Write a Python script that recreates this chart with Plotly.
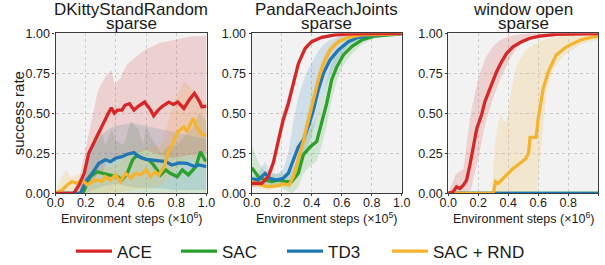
import plotly.graph_objects as go

# ---------------- data ----------------
titles = [("DKittyStandRandom", "sparse"), ("PandaReachJoints", "sparse"), ("window open", "sparse")]
xlabels = ["Environment steps (×10<sup>6</sup>)", "Environment steps (×10<sup>5</sup>)", "Environment steps (×10<sup>6</sup>)"]
tick_x = [0.0, 0.2, 0.4, 0.6, 0.8, 1.0]
tick_y = [0.0, 0.25, 0.5, 0.75, 1.0]
series_names = ["ACE", "SAC", "TD3", "SAC + RND"]
series_colors = ["#d62728", "#2ca02c", "#1f77b4", "#f4b42f"]
series_fills = ["rgba(214,39,40,0.16)", "rgba(44,160,44,0.16)", "rgba(31,119,180,0.16)", "rgba(244,180,47,0.18)"]

# Panel 1: DKittyStandRandom
dk_ace_x = [0.0, 0.12, 0.155, 0.19, 0.22, 0.25, 0.28, 0.32, 0.35, 0.37, 0.39, 0.41, 0.44, 0.46, 0.49, 0.52,
            0.55, 0.59, 0.63, 0.65, 0.68, 0.71, 0.75, 0.78, 0.81, 0.85, 0.87, 0.89, 0.92, 0.95, 0.97, 1.0]
dk_ace_y = [0.0, 0.0, 0.05, 0.125, 0.25, 0.31, 0.37, 0.44, 0.50, 0.535, 0.50, 0.52, 0.52, 0.55, 0.56, 0.52,
            0.545, 0.57, 0.52, 0.485, 0.52, 0.545, 0.57, 0.555, 0.57, 0.53, 0.56, 0.59, 0.625, 0.58, 0.54, 0.545]
dk_ace_bx = [0.0, 0.12, 0.16, 0.22, 0.25, 0.28, 0.32, 0.34, 0.37, 0.39, 0.43, 0.47, 0.54, 0.6, 0.69, 0.78, 0.89, 1.0]
dk_ace_hi = [0.0, 0.0, 0.1, 0.36, 0.51, 0.64, 0.71, 0.74, 0.77, 0.68, 0.72, 0.80, 0.86, 0.90, 0.94, 0.96, 0.98, 0.985]
dk_ace_lo = [0.0, 0.0, 0.0, 0.05, 0.08, 0.12, 0.15, 0.2, 0.22, 0.2, 0.22, 0.24, 0.25, 0.27, 0.24, 0.22, 0.24, 0.25]

dk_sac_x = [0.0, 0.18, 0.2, 0.23, 0.276, 0.31, 0.353, 0.41, 0.44, 0.475, 0.51, 0.54, 0.574, 0.62, 0.65, 0.695,
            0.73, 0.76, 0.806, 0.84, 0.88, 0.93, 0.96, 0.99, 1.0]
dk_sac_y = [0.0, 0.0, 0.04, 0.104, 0.135, 0.125, 0.115, 0.104, 0.083, 0.125, 0.208, 0.24, 0.219, 0.208, 0.177,
            0.115, 0.146, 0.125, 0.104, 0.146, 0.115, 0.167, 0.26, 0.208, 0.2]
dk_sac_bx = [0.0, 0.15, 0.2, 0.25, 0.3, 0.33, 0.37, 0.4, 0.45, 0.5, 0.55, 0.58, 0.6, 0.63, 0.67, 0.7, 0.75, 0.8,
             0.85, 0.9, 0.95, 1.0]
dk_sac_hi = [0.0, 0.0, 0.15, 0.35, 0.42, 0.3, 0.4, 0.33, 0.3, 0.45, 0.4, 0.3, 0.42, 0.35, 0.3, 0.25, 0.3, 0.3,
             0.35, 0.4, 0.5, 0.45]
dk_sac_lo = [0.0, 0.0, 0.0, 0.0, 0.0, 0.0, 0.0, 0.0, 0.0, 0.0, 0.0, 0.0, 0.0, 0.0, 0.0, 0.0, 0.0, 0.0,
             0.0, 0.0, 0.0, 0.0]

dk_td3_x = [0.0, 0.166, 0.2, 0.243, 0.287, 0.33, 0.364, 0.397, 0.44, 0.475, 0.52, 0.55, 0.6, 0.66, 0.73, 0.77,
            0.82, 0.87, 0.92, 0.95, 1.0]
dk_td3_y = [0.0, 0.0, 0.073, 0.125, 0.1875, 0.21, 0.198, 0.219, 0.229, 0.244, 0.254, 0.229, 0.2125, 0.204,
            0.198, 0.177, 0.19, 0.1875, 0.167, 0.177, 0.167]
dk_td3_bx = [0.0, 0.16, 0.2, 0.25, 0.3, 0.35, 0.4, 0.5, 0.6, 0.7, 0.8, 0.9, 1.0]
dk_td3_hi = [0.0, 0.0, 0.2, 0.3, 0.36, 0.4, 0.42, 0.44, 0.42, 0.4, 0.38, 0.36, 0.34]
dk_td3_lo = [0.0, 0.0, 0.0, 0.02, 0.04, 0.05, 0.06, 0.04, 0.03, 0.03, 0.02, 0.02, 0.02]

dk_rnd_x = [0.0, 0.044, 0.077, 0.11, 0.14, 0.177, 0.21, 0.243, 0.276, 0.31, 0.33, 0.364, 0.397, 0.43, 0.464,
            0.5, 0.53, 0.563, 0.6, 0.63, 0.66, 0.684, 0.72, 0.74, 0.77, 0.79, 0.81, 0.85, 0.87, 0.89, 0.91,
            0.93, 0.96, 0.97, 1.0]
dk_rnd_y = [0.0, 0.02, 0.052, 0.073, 0.0625, 0.083, 0.052, 0.073, 0.083, 0.073, 0.104, 0.083, 0.115, 0.073,
            0.125, 0.094, 0.125, 0.115, 0.146, 0.104, 0.135, 0.115, 0.167, 0.24, 0.3, 0.34, 0.385, 0.415,
            0.385, 0.425, 0.47, 0.425, 0.385, 0.365, 0.365]
dk_rnd_bx = [0.0, 0.03, 0.07, 0.1, 0.15, 0.2, 0.3, 0.4, 0.5, 0.6, 0.7, 0.75, 0.8, 0.85, 0.9, 0.95, 1.0]
dk_rnd_hi = [0.0, 0.08, 0.15, 0.1, 0.12, 0.12, 0.15, 0.18, 0.25, 0.28, 0.3, 0.45, 0.6, 0.7, 0.66, 0.6, 0.55]
dk_rnd_lo = [0.0, 0.0, 0.0, 0.0, 0.0, 0.0, 0.0, 0.0, 0.02, 0.03, 0.05, 0.1, 0.15, 0.2, 0.22, 0.2, 0.18]

# Panel 2: PandaReachJoints
pr_ace_x = [0.0, 0.067, 0.11, 0.144, 0.178, 0.21, 0.244, 0.278, 0.311, 0.356, 0.4, 0.467, 0.556, 0.667, 1.0]
pr_ace_y = [0.0625, 0.0625, 0.104, 0.19, 0.33, 0.46, 0.56, 0.69, 0.81, 0.906, 0.948, 0.975, 0.99, 0.996, 1.0]
pr_ace_hi = [0.08, 0.08, 0.13, 0.23, 0.38, 0.51, 0.61, 0.73, 0.84, 0.925, 0.96, 0.985, 0.995, 1.0, 1.0]
pr_ace_lo = [0.04, 0.045, 0.08, 0.15, 0.28, 0.41, 0.51, 0.65, 0.78, 0.885, 0.935, 0.965, 0.985, 0.992, 1.0]

pr_sac_x = [0.0, 0.044, 0.089, 0.133, 0.178, 0.222, 0.267, 0.311, 0.344, 0.389, 0.433, 0.467, 0.5, 0.533,
            0.567, 0.611, 0.667, 0.733, 0.822, 1.0]
pr_sac_y = [0.16, 0.104, 0.083, 0.073, 0.083, 0.073, 0.073, 0.125, 0.24, 0.29, 0.323, 0.4375, 0.5625, 0.708,
            0.79, 0.865, 0.917, 0.958, 0.983, 0.996]
pr_sac_hi = [0.3, 0.2, 0.13, 0.12, 0.12, 0.12, 0.15, 0.2, 0.33, 0.4, 0.48, 0.58, 0.7, 0.82, 0.88, 0.93, 0.96,
             0.98, 0.995, 1.0]
pr_sac_lo = [0.06, 0.05, 0.05, 0.04, 0.04, 0.02, 0.0, 0.04, 0.12, 0.17, 0.2, 0.3, 0.42, 0.58, 0.7, 0.8, 0.87,
             0.93, 0.97, 0.993]

pr_td3_x = [0.0, 0.044, 0.089, 0.12, 0.167, 0.21, 0.244, 0.278, 0.311, 0.344, 0.378, 0.411, 0.444, 0.478,
            0.522, 0.578, 0.644, 0.711, 0.8, 1.0]
pr_td3_y = [0.09, 0.083, 0.125, 0.094, 0.083, 0.094, 0.125, 0.21, 0.29, 0.333, 0.417, 0.52, 0.646, 0.75,
            0.833, 0.896, 0.948, 0.975, 0.99, 0.996]
pr_td3_hi = [0.1, 0.12, 0.2, 0.14, 0.12, 0.15, 0.25, 0.45, 0.6, 0.7, 0.78, 0.84, 0.89, 0.93, 0.96, 0.98,
             0.99, 1.0, 1.0, 1.0]
pr_td3_lo = [0.04, 0.05, 0.06, 0.05, 0.05, 0.05, 0.07, 0.1, 0.15, 0.2, 0.3, 0.4, 0.5, 0.62, 0.74, 0.84,
             0.92, 0.96, 0.985, 0.995]

pr_rnd_x = [0.0, 0.056, 0.111, 0.167, 0.21, 0.249, 0.278, 0.311, 0.344, 0.378, 0.411, 0.444, 0.478, 0.522,
            0.578, 0.644, 0.733, 1.0]
pr_rnd_y = [0.073, 0.052, 0.042, 0.046, 0.058, 0.052, 0.104, 0.208, 0.323, 0.458, 0.583, 0.708, 0.81, 0.896,
            0.948, 0.975, 0.99, 0.996]
pr_rnd_hi = [0.1, 0.08, 0.07, 0.07, 0.08, 0.08, 0.15, 0.28, 0.4, 0.54, 0.66, 0.77, 0.86, 0.93, 0.97, 0.99,
             1.0, 1.0]
pr_rnd_lo = [0.04, 0.03, 0.02, 0.03, 0.04, 0.03, 0.06, 0.14, 0.25, 0.38, 0.5, 0.64, 0.76, 0.86, 0.92, 0.96,
             0.98, 0.993]

# Panel 3: window open
wo_ace_x = [0.0, 0.033, 0.055, 0.078, 0.1, 0.122, 0.144, 0.167, 0.19, 0.21, 0.222, 0.244, 0.267, 0.289, 0.322,
            0.356, 0.389, 0.433, 0.489, 0.544, 0.61, 0.72, 0.83, 1.0]
wo_ace_y = [0.0, 0.01, 0.04, 0.03, 0.05, 0.083, 0.177, 0.28, 0.406, 0.458, 0.49, 0.573, 0.625, 0.6875, 0.76,
            0.823, 0.875, 0.917, 0.948, 0.969, 0.983, 0.994, 0.996, 0.998]
wo_ace_bx = [0.0, 0.05, 0.1, 0.15, 0.2, 0.25, 0.3, 0.35, 0.4, 0.45, 0.5, 0.6, 0.7, 0.8, 1.0]
wo_ace_hi = [0.0, 0.12, 0.15, 0.5, 0.72, 0.85, 0.92, 0.96, 0.98, 0.99, 0.995, 1.0, 1.0, 1.0, 1.0]
wo_ace_lo = [0.0, 0.0, 0.0, 0.02, 0.22, 0.45, 0.6, 0.72, 0.82, 0.9, 0.94, 0.975, 0.99, 0.995, 0.998]

wo_sac_x = [0.0, 1.0]
wo_sac_y = [0.0, 0.0]
wo_td3_x = [0.0, 1.0]
wo_td3_y = [0.0, 0.0]

wo_rnd_x = [0.0, 0.3, 0.315, 0.333, 0.367, 0.4, 0.433, 0.478, 0.515, 0.535, 0.545, 0.585, 0.6, 0.633, 0.667,
            0.72, 0.79, 0.88, 1.0]
wo_rnd_y = [0.0, 0.0, 0.073, 0.0625, 0.094, 0.125, 0.156, 0.1875, 0.215, 0.25, 0.35, 0.35, 0.47, 0.656, 0.76,
            0.865, 0.917, 0.958, 0.985]
wo_rnd_bx = [0.0, 0.29, 0.31, 0.33, 0.35, 0.37, 0.39, 0.42, 0.455, 0.52, 0.59, 0.61, 0.655, 0.7, 0.77, 0.88, 1.0]
wo_rnd_hi = [0.0, 0.0, 0.3, 0.43, 0.5, 0.45, 0.45, 0.65, 0.8, 0.9, 0.94, 0.95, 0.965, 0.975, 0.985, 0.99, 0.995]
wo_rnd_lo = [0.0, 0.0, 0.0, 0.0, 0.0, 0.0, 0.0, 0.0, 0.0, 0.0, 0.0, 0.22, 0.635, 0.78, 0.86, 0.93, 0.96]

# ---------------- figure ----------------
FONT = "Liberation Sans, Arial, sans-serif"
W, H = 605, 265
x_domains = [(55.5 / W, 206.5 / W), (251.7 / W, 401.7 / W), (448.3 / W, 598.3 / W)]
y_domain = (1 - 193.3 / H, 1 - 33.3 / H)
legend_left_px = [71, 176, 282, 387]   # left edge of each legend entry
legend_ids = ["legend", "legend2", "legend3", "legend4"]

panels = [
    [(1, dk_sac_x, dk_sac_y, dk_sac_bx, dk_sac_hi, dk_sac_lo),
     (2, dk_td3_x, dk_td3_y, dk_td3_bx, dk_td3_hi, dk_td3_lo),
     (3, dk_rnd_x, dk_rnd_y, dk_rnd_bx, dk_rnd_hi, dk_rnd_lo),
     (0, dk_ace_x, dk_ace_y, dk_ace_bx, dk_ace_hi, dk_ace_lo)],
    [(1, pr_sac_x, pr_sac_y, pr_sac_x, pr_sac_hi, pr_sac_lo),
     (2, pr_td3_x, pr_td3_y, pr_td3_x, pr_td3_hi, pr_td3_lo),
     (3, pr_rnd_x, pr_rnd_y, pr_rnd_x, pr_rnd_hi, pr_rnd_lo),
     (0, pr_ace_x, pr_ace_y, pr_ace_x, pr_ace_hi, pr_ace_lo)],
    [(1, wo_sac_x, wo_sac_y, None, None, None),
     (2, wo_td3_x, wo_td3_y, None, None, None),
     (3, wo_rnd_x, wo_rnd_y, wo_rnd_bx, wo_rnd_hi, wo_rnd_lo),
     (0, wo_ace_x, wo_ace_y, wo_ace_bx, wo_ace_hi, wo_ace_lo)],
]

fig = go.Figure()
for p, series in enumerate(panels):
    xa = "x" if p == 0 else f"x{p + 1}"
    ya = "y" if p == 0 else f"y{p + 1}"
    for (k, lx, ly, bx, hi, lo) in series:
        if bx is None:
            continue
        fig.add_trace(go.Scatter(
            x=list(bx) + list(bx)[::-1], y=list(hi) + list(lo)[::-1],
            fill="toself", fillcolor=series_fills[k], line=dict(width=0),
            mode="lines", hoverinfo="skip", showlegend=False, xaxis=xa, yaxis=ya))
    for (k, lx, ly, bx, hi, lo) in series:
        fig.add_trace(go.Scatter(
            x=lx, y=ly, mode="lines", name=series_names[k],
            line=dict(color=series_colors[k], width=3.3),
            showlegend=(p == 0), legend=legend_ids[k], xaxis=xa, yaxis=ya))

axis_common = dict(
    showline=True, mirror=True, linecolor="#3a3a3a", linewidth=1.3,
    showgrid=True, gridcolor="#cccccc", griddash="dot", gridwidth=1,
    zeroline=False, ticks="outside", ticklen=2, tickwidth=1, tickcolor="#3a3a3a",
    tickfont=dict(family=FONT, size=12.5, color="#1a1a1a"), automargin=False,
)
layout = dict(
    width=W, height=H, margin=dict(l=0, r=0, t=0, b=0, autoexpand=False),
    paper_bgcolor="white", plot_bgcolor="#f2f2f2",
    font=dict(family=FONT, color="#1a1a1a"),
)
for k, lid in enumerate(legend_ids):
    layout[lid] = dict(orientation="h", x=legend_left_px[k] / W, xanchor="left",
                       y=1 - 251.5 / H, yanchor="middle", itemwidth=36,
                       font=dict(family=FONT, size=17, color="#1a1a1a"),
                       bgcolor="rgba(0,0,0,0)", borderwidth=0)
for p in range(3):
    sx = "" if p == 0 else str(p + 1)
    layout[f"xaxis{sx}"] = dict(axis_common, domain=list(x_domains[p]), range=[0, 1],
                               tickvals=tick_x, tickformat=".1f", anchor=f"y{sx}",
                               ticklabelstandoff=-4)
    layout[f"yaxis{sx}"] = dict(axis_common, domain=list(y_domain), range=[0, 1],
                               tickvals=tick_y, tickformat=".2f", anchor=f"x{sx}")
fig.update_layout(**layout)

annotations = []
for p in range(3):
    cx = (x_domains[p][0] + x_domains[p][1]) / 2
    annotations.append(dict(text=titles[p][0], x=cx, y=1 - 9.5 / H, xref="paper", yref="paper",
                            xanchor="center", yanchor="middle", showarrow=False,
                            font=dict(family=FONT, size=17, color="#1a1a1a")))
    annotations.append(dict(text=titles[p][1], x=cx, y=1 - 24 / H, xref="paper", yref="paper",
                            xanchor="center", yanchor="middle", showarrow=False,
                            font=dict(family=FONT, size=17, color="#1a1a1a")))
    annotations.append(dict(text=xlabels[p], x=cx, y=1 - 217.5 / H, xref="paper", yref="paper",
                            xanchor="center", yanchor="middle", showarrow=False,
                            font=dict(family=FONT, size=12.5, color="#1a1a1a")))
annotations.append(dict(text="success rate", x=18 / W, y=1 - 113.3 / H, xref="paper", yref="paper",
                        xanchor="center", yanchor="middle", textangle=-90, showarrow=False,
                        font=dict(family=FONT, size=15, color="#1a1a1a")))
fig.update_layout(annotations=annotations)

fig.write_html("out.html", config={"displayModeBar": False},
               post_script="document.body.style.margin='0';document.body.style.padding='0';")
